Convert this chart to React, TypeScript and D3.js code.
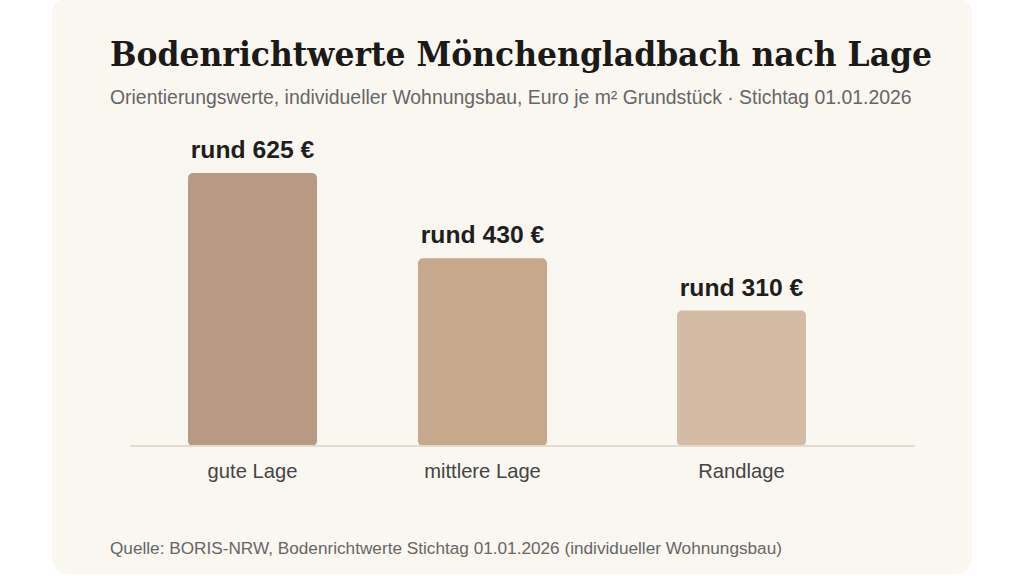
import React from "react";
import * as d3 from "d3";

const categories = ["gute Lage", "mittlere Lage", "Randlage"];
const values = [625, 430, 310];
const valueLabels = ["rund 625 €", "rund 430 €", "rund 310 €"];
const barColors = ["#b89a82", "#c6a98d", "#d4bba5"];

const W = 1024;
const H = 576;

export default function App() {
  const x = d3.scaleOrdinal<string, number>().domain(categories).range([252.5, 482.5, 741.5]);
  const barW = 129;
  const y = d3.scaleLinear().domain([0, 625]).range([446, 173]);
  const sans = "'Liberation Sans', Arial, sans-serif";
  return (
    <svg width={W} height={H} style={{ position: "absolute", left: 0, top: 0 }}>
      <rect x={0} y={0} width={W} height={H} fill="#ffffff" />
      <rect x={52} y={-2} width={920} height={576} rx={16} fill="#faf7f1" />
      <text x={110} y={66} fontFamily="'DejaVu Serif', Georgia, serif" fontWeight="bold" fontSize={33} fill="#1c1a18" textLength={822} lengthAdjust="spacingAndGlyphs">
        Bodenrichtwerte Mönchengladbach nach Lage
      </text>
      <text x={110} y={104} fontFamily={sans} fontSize={19.4} fill="#666666">
        Orientierungswerte, individueller Wohnungsbau, Euro je m² Grundstück · Stichtag 01.01.2026
      </text>
      {categories.map((c, i) => (
        <g key={c}>
          <rect x={x(c) - barW / 2} y={y(values[i])} width={barW} height={y(0) - y(values[i])} rx={5} fill={barColors[i]} />
          <text x={x(c)} y={y(values[i]) - 15} textAnchor="middle" fontFamily={sans} fontWeight="bold" fontSize={24.7} fill="#1e1e1e">
            {valueLabels[i]}
          </text>
          <text x={x(c)} y={478} textAnchor="middle" fontFamily={sans} fontSize={20.2} fill="#444444">
            {c}
          </text>
        </g>
      ))}
      <line x1={130} x2={915} y1={y(0)} y2={y(0)} stroke="#e3dccd" strokeWidth={2} />
      <text x={110} y={554} fontFamily={sans} fontSize={17.2} fill="#666666">
        Quelle: BORIS-NRW, Bodenrichtwerte Stichtag 01.01.2026 (individueller Wohnungsbau)
      </text>
    </svg>
  );
}
